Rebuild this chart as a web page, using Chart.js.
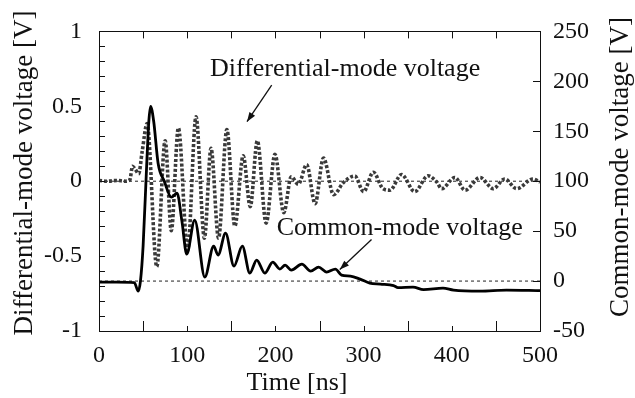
<!DOCTYPE html>
<html><head><meta charset="utf-8">
<script src="https://cdn.jsdelivr.net/npm/chart.js@4"></script>
<style>html,body{margin:0;padding:0;background:#fff}#c{display:block}</style>
</head><body>
<canvas id="c" width="635" height="398"></canvas>
<script>
// Differential-mode voltage [V] (left axis)
const dmTime = [0,10,20,30,35,38,41,45,49,54.5,65.5,75,82,90,100.5,110,119.5,127,135.5,145,154,163.5,171.5,179.5,189.5,199.5,209.5,218,226,235.5,245,254.5,266,277,290,300,311,322,330,343,358,373,383,388.5,403.5,415,432,447,460,473.5,492,500];
const dmVolt = [0.005,0,0.005,0,0.01,0.10,0.08,0.05,0.2,0.385,-0.57,0.27,-0.33,0.355,-0.46,0.43,-0.38,0.22,-0.38,0.345,-0.30,0.17,-0.17,0.27,-0.28,0.18,-0.21,0.03,-0.02,0.11,-0.15,0.155,-0.09,-0.01,0.035,-0.07,0.06,-0.05,-0.06,0.045,-0.07,0.036,-0.006,-0.05,0.025,-0.06,0.025,-0.05,0.015,-0.05,0.015,-0.006];
// Common-mode voltage [V] (right axis)
const cmTime = [0,20,40,44.5,47,50,54,56.5,58.5,62,67,74,82,88.5,94,99.5,108.5,120,130,135,143.5,153,162.5,171,178.8,188,197,205,211,218,230,240,249,258,268,275,285,296,307,319,334,339,356,368,390,402,432,462,500];
const cmVolt = [-1,-1,-1.5,-10,0,35,115,160,175,160,118,100,84,88,60,27,61,4,35,26,48,15,35,8,21,8,19,12,16,11,17,10,14,9,12,6,5,2,-2,-3,-4.5,-6.5,-6,-8.5,-7,-9,-10,-9,-9.5];
// reference (zero) lines
const refTime = [0,500];
const dmRef = [0,0];
const cmRef = [0,0];
// tick labels
const xTicks = [0,100,200,300,400,500];
const yTicks = [-1,-0.5,0,0.5,1];
const y2Ticks = [-50,0,50,100,150,200,250];
const xMinor = [50,100,150,200,250,300,350,400,450];
const yMinor = [-0.9,-0.8,-0.7,-0.6,-0.5,-0.4,-0.3,-0.2,-0.1,0,0.1,0.2,0.3,0.4,0.5,0.6,0.7,0.8,0.9];
const y2Minor = [0,50,100,150,200];

const FONT = "'Liberation Serif', 'Times New Roman', serif";
const pts = (xs, ys) => xs.map((x, i) => ({x, y: ys[i]}));

const frame = {
  id: 'frame',
  afterDraw(chart) {
    const {ctx, chartArea: a, scales} = chart;
    const x = scales.x, y = scales.y, y2 = scales.y2;
    ctx.save();
    ctx.strokeStyle = '#111';
    ctx.lineWidth = 1;
    ctx.strokeRect(Math.round(a.left) + 0.5, Math.round(a.top) + 0.5, Math.round(a.right - a.left), Math.round(a.bottom - a.top));
    ctx.beginPath();
    xMinor.forEach((t, i) => {
      const px = Math.round(x.getPixelForValue(t)) + 0.5;
      const len = (i % 2 === 0) ? 10 : 5;
      ctx.moveTo(px, a.bottom); ctx.lineTo(px, a.bottom - len);
      ctx.moveTo(px, a.top); ctx.lineTo(px, a.top + 7);
    });
    yMinor.forEach(v => {
      const py = Math.round(y.getPixelForValue(v)) + 0.5;
      ctx.moveTo(a.left, py); ctx.lineTo(a.left + 6, py);
    });
    y2Minor.forEach(v => {
      const py = Math.round(y2.getPixelForValue(v)) + 0.5;
      ctx.moveTo(a.right, py); ctx.lineTo(a.right - 7, py);
    });
    ctx.stroke();

    // axis titles
    ctx.fillStyle = '#111';
    ctx.textAlign = 'center';
    ctx.textBaseline = 'middle';
    ctx.font = '27px ' + FONT;
    ctx.save(); ctx.translate(25, 173); ctx.rotate(-Math.PI / 2);
    ctx.fillText('Differential-mode voltage [V]', 0, 0); ctx.restore();
    ctx.save(); ctx.translate(621, 167); ctx.rotate(-Math.PI / 2);
    ctx.fillText('Common-mode voltage [V]', 0, 0); ctx.restore();
    ctx.font = '26px ' + FONT;
    ctx.textBaseline = 'alphabetic';
    ctx.fillText('Time [ns]', 297, 390);

    // annotations (anchored in data coordinates)
    ctx.font = '26px ' + FONT;
    ctx.fillText('Differential-mode voltage', x.getPixelForValue(279), y.getPixelForValue(0.7));
    ctx.fillText('Common-mode voltage', x.getPixelForValue(341), y.getPixelForValue(-0.36));
    const arrow = (t0, v0, t1, v1) => {
      const x0 = x.getPixelForValue(t0), y0 = y.getPixelForValue(v0);
      const x1 = x.getPixelForValue(t1), y1 = y.getPixelForValue(v1);
      const ang = Math.atan2(y1 - y0, x1 - x0);
      ctx.beginPath(); ctx.moveTo(x0, y0); ctx.lineTo(x1, y1);
      ctx.lineWidth = 1.3; ctx.strokeStyle = '#111'; ctx.stroke();
      const h = 10, w = 0.35;
      ctx.beginPath();
      ctx.moveTo(x1, y1);
      ctx.lineTo(x1 - h * Math.cos(ang - w), y1 - h * Math.sin(ang - w));
      ctx.lineTo(x1 - h * Math.cos(ang + w), y1 - h * Math.sin(ang + w));
      ctx.closePath(); ctx.fill();
    };
    arrow(195.8, 0.641, 167.8, 0.397);
    arrow(309, -0.389, 273, -0.59);
    ctx.restore();
  }
};

new Chart(document.getElementById('c'), {
  type: 'line',
  data: {
    datasets: [
      {data: pts(refTime, dmRef), yAxisID: 'y', borderColor: '#222', borderWidth: 1, borderDash: [3, 3], pointRadius: 0, order: 4},
      {data: pts(refTime, cmRef), yAxisID: 'y2', borderColor: '#222', borderWidth: 1, borderDash: [3, 3], pointRadius: 0, order: 3},
      {data: pts(dmTime, dmVolt), yAxisID: 'y', borderColor: '#3a3a3a', borderWidth: 3.6, borderDash: [3, 2], borderCapStyle: 'butt', pointRadius: 0, cubicInterpolationMode: 'monotone', order: 2},
      {data: pts(cmTime, cmVolt), yAxisID: 'y2', borderColor: '#000', borderWidth: 2.8, pointRadius: 0, cubicInterpolationMode: 'monotone', order: 1}
    ]
  },
  options: {
    responsive: false,
    animation: false,
    devicePixelRatio: 1,
    layout: {padding: {top: 17, left: 0, right: 0, bottom: 0}},
    plugins: {legend: {display: false}, tooltip: {enabled: false}},
    scales: {
      x: {
        type: 'linear', position: 'bottom', min: 0, max: 500,
        afterBuildTicks: s => { s.ticks = xTicks.map(v => ({value: v})); },
        afterFit: s => { s.height = 67; },
        grid: {display: false, drawTicks: false}, border: {display: false},
        ticks: {padding: 10, color: '#111', font: {family: FONT, size: 24}, maxRotation: 0, callback: v => String(v)}
      },
      y: {
        type: 'linear', position: 'left', min: -1, max: 1,
        afterBuildTicks: s => { s.ticks = yTicks.map(v => ({value: v})); },
        afterFit: s => { s.width = 99; },
        grid: {display: false, drawTicks: false}, border: {display: false},
        ticks: {padding: 17, color: '#111', font: {family: FONT, size: 24}, callback: v => String(v)}
      },
      y2: {
        type: 'linear', position: 'right', min: -50, max: 250,
        afterBuildTicks: s => { s.ticks = y2Ticks.map(v => ({value: v})); },
        afterFit: s => { s.width = 95; },
        grid: {display: false, drawTicks: false}, border: {display: false},
        ticks: {padding: 13, color: '#111', font: {family: FONT, size: 24}, callback: v => String(v)}
      }
    }
  },
  plugins: [frame]
});
</script>
</body></html>
